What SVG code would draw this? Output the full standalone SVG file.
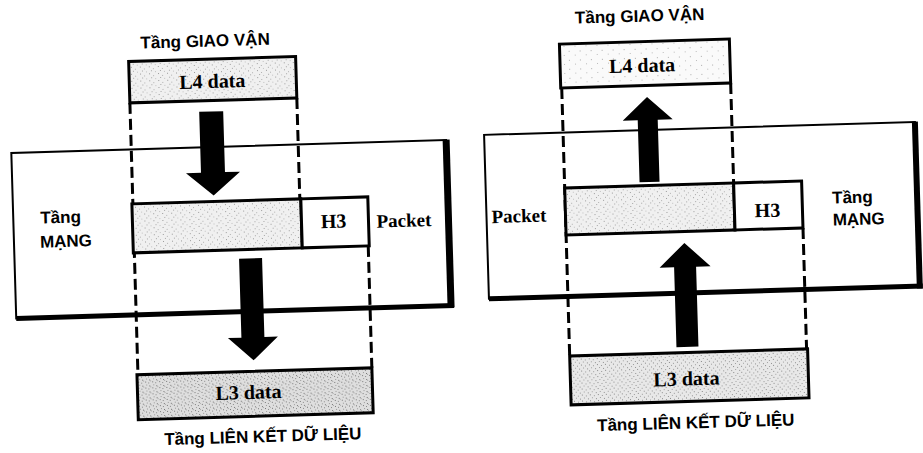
<svg xmlns="http://www.w3.org/2000/svg" width="923" height="453" viewBox="0 0 923 453">
<defs>
<pattern id="stip" width="9" height="7" patternUnits="userSpaceOnUse">
<rect width="9" height="7" fill="#f0f0f0"/>
<rect x="1" y="1" width="1" height="1" fill="#9a9a9a"/>
<rect x="5" y="3" width="1" height="1" fill="#b0b0b0"/>
<rect x="3" y="5" width="1" height="1" fill="#a5a5a5"/>
<rect x="7" y="6" width="1" height="1" fill="#c0c0c0"/>
</pattern>
<pattern id="stip2" width="7" height="6" patternUnits="userSpaceOnUse">
<rect width="7" height="6" fill="#dedede"/>
<rect x="1" y="1" width="1" height="1" fill="#777"/>
<rect x="4" y="2" width="1" height="1" fill="#888"/>
<rect x="2" y="4" width="1" height="1" fill="#999"/>
<rect x="5" y="5" width="1" height="1" fill="#777"/>
<rect x="6" y="0" width="1" height="1" fill="#aaa"/>
</pattern>
<pattern id="stip3" width="8" height="6" patternUnits="userSpaceOnUse">
<rect width="8" height="6" fill="#e8e8e8"/>
<rect x="1" y="1" width="1" height="1" fill="#888"/>
<rect x="5" y="2" width="1" height="1" fill="#999"/>
<rect x="3" y="4" width="1" height="1" fill="#a0a0a0"/>
<rect x="7" y="5" width="1" height="1" fill="#909090"/>
</pattern>
<pattern id="stip4" width="11" height="9" patternUnits="userSpaceOnUse">
<rect width="11" height="9" fill="#fafafa"/>
<rect x="2" y="2" width="1" height="1" fill="#aaa"/>
<rect x="8" y="6" width="1" height="1" fill="#bbb"/>
</pattern>
</defs>
<style>
.frame{fill:#fff;stroke:#000;stroke-width:2}
.box{stroke:#000;stroke-width:3}
.thick{stroke:#000;fill:none}
.dash{stroke:#000;stroke-width:3;stroke-dasharray:11 5;fill:none}
.arrow{fill:#000}
.lbl{font-family:"Liberation Sans",Arial,sans-serif;font-weight:bold;font-size:17px;fill:#000}
.dat{font-family:"Liberation Serif","Times New Roman",serif;font-weight:bold;font-size:20px;fill:#000}
.pk{font-size:19px}
</style>
<rect width="923" height="453" fill="#fff"/>

<g id="left-diagram" transform="rotate(-1.7 230 240)">
  <g id="left-network-layer">
    <rect class="frame" x="14" y="146.5" width="435" height="165.5"/>
    <line class="thick" x1="449" y1="146" x2="449" y2="314" stroke-width="7"/>
    <line class="thick" x1="14" y1="312" x2="452" y2="312" stroke-width="5"/>
    <text class="lbl" x="41" y="218">Tầng</text>
    <text class="lbl" x="40" y="242">MẠNG</text>
  </g>
  <g id="left-connectors">
    <line class="dash" x1="134" y1="100" x2="134" y2="372"/>
    <line class="dash" x1="301" y1="100" x2="301" y2="201"/>
    <line class="dash" x1="368" y1="250" x2="368" y2="372"/>
    <polygon class="arrow" points="203,111 227,111 227,172 242,172 215,195 188,172 203,172"/>
    <polygon class="arrow" points="238.5,259 261.5,259 261.5,338 275,338 250,361 225,338 238.5,338"/>
  </g>
  <g id="left-transport">
    <text class="lbl" x="211" y="46" text-anchor="middle">Tầng GIAO VẬN</text>
    <rect class="box" x="134" y="58.5" width="167" height="41.5" fill="url(#stip)"/>
    <text class="dat" x="217" y="87.5" text-anchor="middle">L4 data</text>
  </g>
  <g id="left-packet">
    <rect class="box" x="133" y="201" width="169" height="49" fill="url(#stip)"/>
    <rect class="box" x="302" y="201" width="67" height="49" fill="#fff"/>
    <text class="dat" x="334" y="231" text-anchor="middle">H3</text>
    <text class="dat pk" x="377" y="232">Packet</text>
  </g>
  <g id="left-datalink">
    <rect class="box" x="133" y="372" width="235" height="45" fill="url(#stip2)"/>
    <text class="dat" x="244" y="399.5" text-anchor="middle">L3 data</text>
    <text class="lbl" x="257" y="443" text-anchor="middle">Tầng LIÊN KẾT DỮ LIỆU</text>
  </g>
</g>

<g id="right-diagram" transform="rotate(-1.7 700 230)">
  <g id="right-network-layer">
    <rect class="frame" x="487" y="128.5" width="431" height="164"/>
    <line class="thick" x1="918" y1="128" x2="918" y2="295" stroke-width="6"/>
    <line class="thick" x1="487" y1="292.5" x2="921" y2="292.5" stroke-width="5"/>
    <text class="lbl" x="833" y="207.5">Tầng</text>
    <text class="lbl" x="833" y="229.5">MẠNG</text>
  </g>
  <g id="right-connectors">
    <line class="dash" x1="566" y1="84" x2="566" y2="352"/>
    <line class="dash" x1="735" y1="84" x2="735" y2="184"/>
    <line class="dash" x1="803" y1="231" x2="803" y2="352"/>
    <polygon class="arrow" points="651,95.5 676,118.5 661,118.5 661,180.5 641,180.5 641,118.5 626,118.5"/>
    <polygon class="arrow" points="684,242.5 709.5,266.5 695,266.5 695,346.5 673,346.5 673,266.5 658.5,266.5"/>
  </g>
  <g id="right-transport">
    <text class="lbl" x="646" y="20" text-anchor="middle">Tầng GIAO VẬN</text>
    <rect class="box" x="565" y="40" width="170" height="44" fill="url(#stip4)"/>
    <text class="dat" x="647" y="70.5" text-anchor="middle">L4 data</text>
  </g>
  <g id="right-packet">
    <rect class="box" x="566" y="184" width="169" height="47" fill="url(#stip)"/>
    <rect class="box" x="735" y="184" width="68" height="47" fill="#fff"/>
    <text class="dat" x="768" y="219" text-anchor="middle">H3</text>
    <text class="dat pk" x="492" y="217">Packet</text>
  </g>
  <g id="right-datalink">
    <rect class="box" x="566" y="352" width="238" height="49" fill="url(#stip3)"/>
    <text class="dat" x="682" y="385" text-anchor="middle">L3 data</text>
    <text class="lbl" x="690" y="428" text-anchor="middle">Tầng LIÊN KẾT DỮ LIỆU</text>
  </g>
</g>
</svg>
